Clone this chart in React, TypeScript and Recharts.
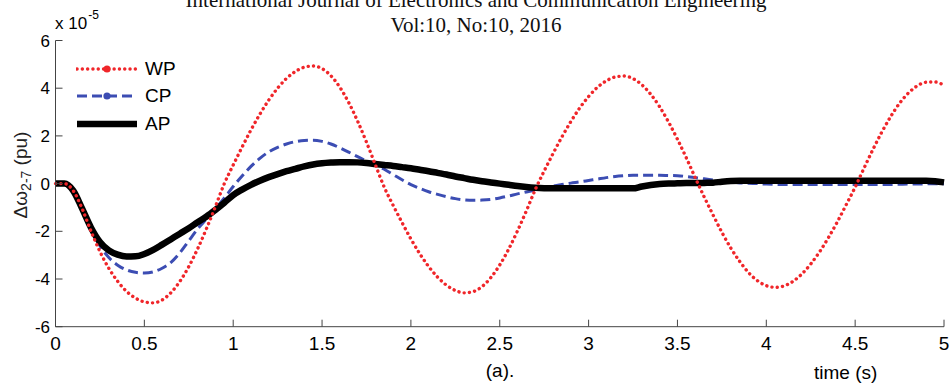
import { LineChart, Line, XAxis, YAxis, Legend } from "recharts";

// time (s), 0.05 s steps
const TIME = [
  0, 0.05, 0.1, 0.15, 0.2, 0.25, 0.3, 0.35, 0.4, 0.45,
  0.5, 0.55, 0.6, 0.65, 0.7, 0.75, 0.8, 0.85, 0.9, 0.95,
  1, 1.05, 1.1, 1.15, 1.2, 1.25, 1.3, 1.35, 1.4, 1.45,
  1.5, 1.55, 1.6, 1.65, 1.7, 1.75, 1.8, 1.85, 1.9, 1.95,
  2, 2.05, 2.1, 2.15, 2.2, 2.25, 2.3, 2.35, 2.4, 2.45,
  2.5, 2.55, 2.6, 2.65, 2.7, 2.75, 2.8, 2.85, 2.9, 2.95,
  3, 3.05, 3.1, 3.15, 3.2, 3.25, 3.3, 3.35, 3.4, 3.45,
  3.5, 3.55, 3.6, 3.65, 3.7, 3.75, 3.8, 3.85, 3.9, 3.95,
  4, 4.05, 4.1, 4.15, 4.2, 4.25, 4.3, 4.35, 4.4, 4.45,
  4.5, 4.55, 4.6, 4.65, 4.7, 4.75, 4.8, 4.85, 4.9, 4.95,
  5,
];

// delta omega 2-7, units of 1e-5 pu
const WP = [
  0, 0, -0.3, -1.05, -2.0, -2.85, -3.55, -4.1, -4.52, -4.8,
  -4.96, -5.0, -4.88, -4.57, -4.1, -3.48, -2.73, -1.88, -0.96, 0,
  0.78, 1.53, 2.25, 2.91, 3.5, 4.0, 4.41, 4.7, 4.88, 4.93,
  4.82, 4.52, 4.04, 3.4, 2.62, 1.74, 0.79, -0.15, -0.91, -1.63,
  -2.32, -2.94, -3.48, -3.92, -4.26, -4.48, -4.58, -4.53, -4.32, -3.94,
  -3.41, -2.75, -1.98, -1.14, -0.25, 0.53, 1.26, 1.96, 2.6, 3.17,
  3.65, 4.04, 4.31, 4.47, 4.51, 4.4, 4.14, 3.74, 3.22, 2.58,
  1.86, 1.08, 0.25, -0.55, -1.31, -2.04, -2.7, -3.26, -3.73, -4.07,
  -4.28, -4.35, -4.29, -4.1, -3.79, -3.37, -2.86, -2.26, -1.6, -0.88,
  -0.15, 0.65, 1.43, 2.16, 2.81, 3.37, 3.8, 4.1, 4.25, 4.26,
  4.12,
];

const CP = [
  0, 0, -0.3, -1.05, -1.9, -2.6, -3.1, -3.42, -3.62, -3.72,
  -3.75, -3.7, -3.55, -3.3, -2.9, -2.4, -1.9, -1.48, -1.06, -0.6,
  -0.12, 0.32, 0.72, 1.06, 1.33, 1.52, 1.66, 1.76, 1.81, 1.82,
  1.77, 1.66, 1.5, 1.32, 1.13, 0.95, 0.78, 0.6, 0.38, 0.16,
  -0.04, -0.2, -0.34, -0.45, -0.55, -0.63, -0.68, -0.7, -0.69, -0.66,
  -0.6, -0.52, -0.43, -0.35, -0.27, -0.19, -0.11, -0.04, 0.02, 0.07,
  0.13, 0.19, 0.25, 0.3, 0.33, 0.35, 0.35, 0.35, 0.35, 0.34,
  0.33, 0.3, 0.25, 0.2, 0.15, 0.1, 0.06, 0.03, 0.01, 0,
  -0.02, -0.03, -0.04, -0.04, -0.04, -0.04, -0.04, -0.04, -0.04, -0.04,
  -0.04, -0.04, -0.04, -0.04, -0.04, -0.03, -0.02, -0.02, -0.01, -0.01,
  -0.01,
];

const AP = [
  0, 0, -0.3, -1.05, -1.85, -2.45, -2.8, -2.98, -3.06, -3.05,
  -2.95, -2.78, -2.56, -2.33, -2.1, -1.87, -1.62, -1.38, -1.1, -0.8,
  -0.48, -0.25, -0.05, 0.12, 0.27, 0.4, 0.52, 0.62, 0.72, 0.8,
  0.85, 0.88, 0.9, 0.9, 0.89, 0.86, 0.82, 0.78, 0.74, 0.69,
  0.64, 0.58, 0.52, 0.45, 0.38, 0.3, 0.23, 0.16, 0.1, 0.05,
  0, -0.05, -0.1, -0.14, -0.17, -0.19, -0.2, -0.2, -0.2, -0.2,
  -0.2, -0.2, -0.2, -0.2, -0.2, -0.2, -0.12, -0.06, -0.02, 0,
  0.01, 0.02, 0.02, 0.03, 0.04, 0.08, 0.11, 0.12, 0.12, 0.12,
  0.12, 0.12, 0.12, 0.12, 0.12, 0.12, 0.12, 0.12, 0.12, 0.12,
  0.12, 0.12, 0.12, 0.12, 0.12, 0.12, 0.12, 0.12, 0.12, 0.1,
  0.05,
];

const X_TICKS = [0, 0.5, 1, 1.5, 2, 2.5, 3, 3.5, 4, 4.5, 5];
const Y_TICKS = [-6, -4, -2, 0, 2, 4, 6];

const data = TIME.map((t, i) => ({ t, WP: WP[i], CP: CP[i], AP: AP[i] }));

interface SeriesStyle {
  key: "WP" | "CP" | "AP";
  color: string;
  width: number;
  dash?: string;
  cap: "round" | "butt";
  marker: boolean;
}

const SERIES: SeriesStyle[] = [
  { key: "WP", color: "#f0262a", width: 3.4, dash: "0.1 5.2", cap: "round", marker: true },
  { key: "CP", color: "#3c4db3", width: 3, dash: "10 5", cap: "butt", marker: true },
  { key: "AP", color: "#000000", width: 6.5, cap: "butt", marker: false },
];

const AXIS_FONT = "'Liberation Sans', Arial, sans-serif";
const FRAME = "#444";

function CustomLegend() {
  return (
    <div style={{ fontFamily: AXIS_FONT }}>
      {SERIES.map((s) => (
        <div key={s.key} style={{ display: "flex", alignItems: "center", height: 27.5 }}>
          <svg width={62} height={12}>
            <line
              x1={1}
              y1={6}
              x2={61}
              y2={6}
              stroke={s.color}
              strokeWidth={s.width}
              strokeDasharray={s.dash}
              strokeLinecap={s.cap}
            />
            {s.marker && <circle cx={31} cy={6} r={3.6} fill={s.color} />}
          </svg>
          <span style={{ marginLeft: 7, fontSize: 19, color: "#000" }}>{s.key}</span>
        </div>
      ))}
    </div>
  );
}

export default function App() {
  const drawOrder = ["CP", "AP", "WP"].map((k) => SERIES.find((s) => s.key === k)!);
  return (
    <div
      style={{
        position: "absolute",
        left: 0,
        top: 0,
        width: 952,
        height: 392,
        background: "#fff",
        overflow: "hidden",
      }}
    >
      <div
        style={{
          position: "absolute",
          left: 0,
          top: -12,
          width: 952,
          textAlign: "center",
          fontFamily: "'Liberation Serif', 'Times New Roman', serif",
          fontSize: 21,
          lineHeight: "25px",
          color: "#111",
        }}
      >
        <div>International Journal of Electronics and Communication Engineering</div>
        <div>Vol:10, No:10, 2016</div>
      </div>
      <div
        style={{
          position: "absolute",
          left: 55,
          top: 14,
          fontFamily: AXIS_FONT,
          fontSize: 17,
          lineHeight: "20px",
          color: "#000",
        }}
      >
        x 10
        <span style={{ fontSize: 12, position: "relative", top: -10, marginLeft: 1 }}>-5</span>
      </div>
      <div
        style={{
          position: "absolute",
          left: 22,
          top: 175,
          transform: "translate(-50%, -50%) rotate(-90deg)",
          whiteSpace: "nowrap",
          fontFamily: AXIS_FONT,
          fontSize: 19,
          color: "#222",
        }}
      >
        Δω<sub style={{ fontSize: 14 }}>2-7</sub> (pu)
      </div>
      <LineChart width={952} height={392} data={data} margin={{ top: 40.5, right: 8, bottom: 0, left: 0 }}>
        <XAxis
          xAxisId="b"
          dataKey="t"
          type="number"
          domain={[0, 5]}
          ticks={X_TICKS}
          height={65.3}
          tickSize={-7}
          tickMargin={17}
          tickFormatter={(v: number) => String(v)}
          tick={{ fill: "#000", fontSize: 19, fontFamily: AXIS_FONT }}
          axisLine={{ stroke: FRAME }}
          tickLine={{ stroke: FRAME }}
        />
        <XAxis
          xAxisId="t"
          orientation="top"
          dataKey="t"
          type="number"
          domain={[0, 5]}
          ticks={X_TICKS}
          height={0}
          tickSize={-7}
          tickFormatter={() => ""}
          axisLine={{ stroke: FRAME }}
          tickLine={{ stroke: FRAME }}
        />
        <YAxis
          yAxisId="l"
          type="number"
          domain={[-6, 6]}
          ticks={Y_TICKS}
          width={55.5}
          tickSize={-7}
          tickMargin={12.5}
          tick={{ fill: "#000", fontSize: 17, fontFamily: AXIS_FONT }}
          axisLine={{ stroke: FRAME }}
          tickLine={{ stroke: FRAME }}
        />
        <YAxis
          yAxisId="r"
          orientation="right"
          type="number"
          domain={[-6, 6]}
          ticks={Y_TICKS}
          width={0}
          tickSize={-7}
          tickFormatter={() => ""}
          axisLine={{ stroke: FRAME }}
          tickLine={{ stroke: FRAME }}
        />
        <Legend
          layout="horizontal"
          verticalAlign="middle"
          align="center"
          content={<CustomLegend />}
          wrapperStyle={{ left: 76, top: 55, width: "auto", height: "auto" }}
        />
        {drawOrder.map((s) => (
          <Line
            key={s.key}
            xAxisId="b"
            yAxisId="l"
            dataKey={s.key}
            type="monotone"
            stroke={s.color}
            strokeWidth={s.width}
            strokeDasharray={s.dash}
            strokeLinecap={s.cap}
            dot={false}
            activeDot={false}
            isAnimationActive={false}
          />
        ))}
      </LineChart>
      <div
        style={{
          position: "absolute",
          left: 500,
          top: 360,
          transform: "translateX(-50%)",
          fontFamily: AXIS_FONT,
          fontSize: 19,
          color: "#000",
        }}
      >
        (a).
      </div>
      <div
        style={{
          position: "absolute",
          left: 814,
          top: 362,
          fontFamily: AXIS_FONT,
          fontSize: 19,
          color: "#000",
        }}
      >
        time (s)
      </div>
    </div>
  );
}
